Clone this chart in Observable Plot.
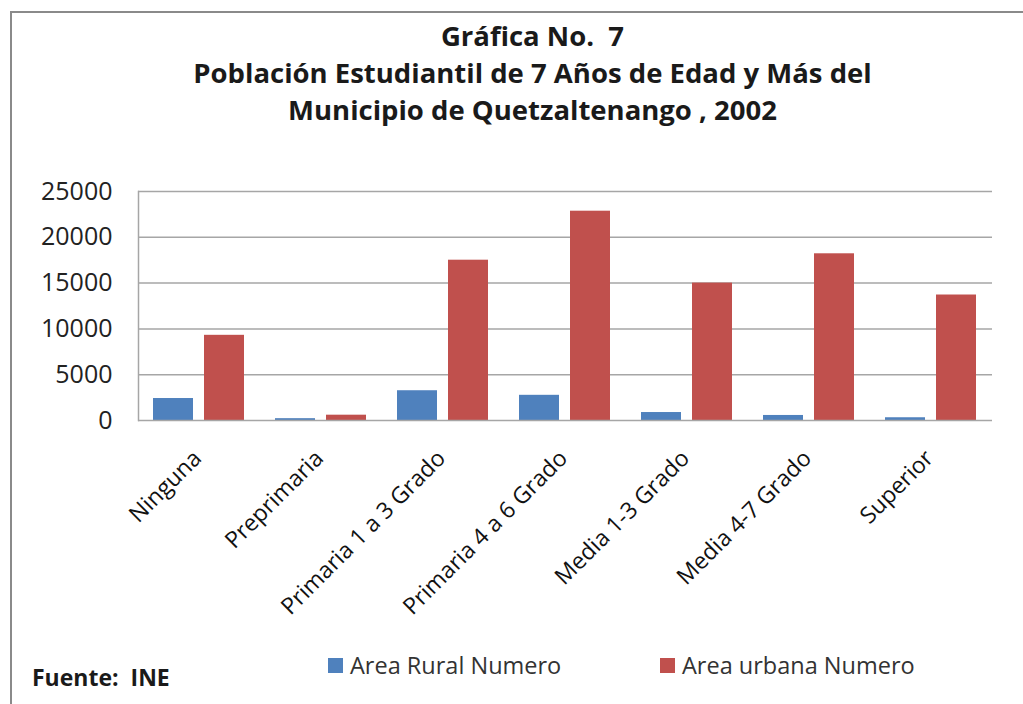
<!DOCTYPE html>
<html>
<head>
<meta charset="utf-8">
<script src="https://cdn.jsdelivr.net/npm/d3@7"></script>
<script src="https://cdn.jsdelivr.net/npm/@observablehq/plot@0.6"></script>
<style>
  html, body { margin: 0; padding: 0; background: #fff; }
  #wrap { position: relative; width: 1023px; height: 704px; overflow: hidden; background: #fff; font-family: "Open Sans", sans-serif; }
  #border { position: absolute; left: 10px; top: 11px; right: -5px; bottom: -5px; border-left: 2px solid #8a8a8a; border-top: 2px solid #8a8a8a; }
  #title { position: absolute; left: 0; width: 1065px; top: 17px; text-align: center; font-weight: bold; font-size: 27.5px; line-height: 37px; color: #1a1a1a; }
  #chart { position: absolute; left: 0; top: 150px; }
  .leg { position: absolute; top: 649px; font-size: 23.5px; color: #333; display: flex; align-items: center; }
  .leg span.sw { display: inline-block; width: 15px; height: 15px; margin-right: 7px; }
  #fuente { position: absolute; left: 32px; top: 661px; font-weight: bold; font-size: 23px; color: #1a1a1a; }
</style>
</head>
<body>
<div id="wrap">
  <div id="border"></div>
  <div id="title"></div>
  <div id="chart"></div>
  <div id="legend"></div>
  <div id="fuente"></div>
</div>
<script>
const titleLines = ["Gráfica No.  7", "Población Estudiantil de 7 Años de Edad y Más del", "Municipio de Quetzaltenango , 2002"];
const categories = ["Ninguna", "Preprimaria", "Primaria 1 a 3 Grado", "Primaria 4 a 6 Grado", "Media 1-3 Grado", "Media 4-7 Grado", "Superior"];
const seriesNames = ["Area Rural Numero", "Area urbana Numero"];
const rural = [2400, 200, 3250, 2750, 870, 550, 300];
const urbana = [9300, 580, 17500, 22850, 15000, 18200, 13700];
const colors = ["#4F81BD", "#C0504D"];
const yTicks = [0, 5000, 10000, 15000, 20000, 25000];
const source = "Fuente:  INE";

const rows = [];
categories.forEach((c, i) => {
  rows.push({cat: c, series: seriesNames[0], value: rural[i]});
  rows.push({cat: c, series: seriesNames[1], value: urbana[i]});
});

document.getElementById("title").innerHTML = titleLines.map(t => `<div style="white-space:pre">${t}</div>`).join("");
document.getElementById("fuente").style.whiteSpace = "pre";
document.getElementById("fuente").textContent = source;

const chart = Plot.plot({
  width: 1023,
  height: 480,
  marginTop: 41,
  marginBottom: 210,
  marginLeft: 137,
  marginRight: 30,
  style: {fontFamily: "Open Sans, sans-serif", background: "transparent"},
  fx: {domain: categories, padding: 0, label: null},
  x: {domain: seriesNames, paddingInner: 0.214, paddingOuter: 0.3, axis: null},
  y: {domain: [0, 25000], axis: null},
  color: {domain: seriesNames, range: colors},
  marks: [
    Plot.ruleY(yTicks.slice(1), {stroke: "#a6a6a6", strokeWidth: 1.5}),
    Plot.barY(rows, {fx: "cat", x: "series", y: "value", fill: "series"}),
    Plot.ruleY([0], {stroke: "#a6a6a6", strokeWidth: 1.5}),
    Plot.frame({anchor: "left", facetAnchor: "left", stroke: "#a6a6a6", strokeWidth: 1.5}),
    Plot.axisY({ticks: yTicks, tickSize: 0, tickPadding: 26, fontSize: 25, fill: "#222", label: null, tickFormat: d => String(d)}),
    Plot.axisFx({anchor: "bottom", tickRotate: -45, tickSize: 0, tickPadding: 34, dx: -2, fontSize: 23, fill: "#111", label: null})
  ]
});
document.getElementById("chart").appendChild(chart);

const legend = document.getElementById("legend");
const legX = [328, 660];
seriesNames.forEach((s, i) => {
  const d = document.createElement("div");
  d.className = "leg";
  d.style.left = legX[i] + "px";
  d.innerHTML = `<span class="sw" style="background:${colors[i]}"></span><span>${s}</span>`;
  legend.appendChild(d);
});
</script>
</body>
</html>
